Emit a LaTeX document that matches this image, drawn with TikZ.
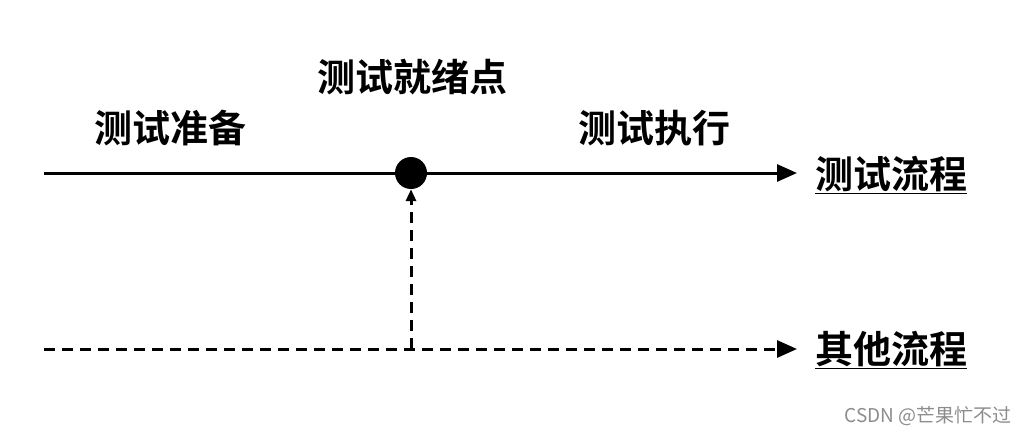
\documentclass[tikz,border=0pt]{standalone}
\usepackage{fontspec}
\newfontfamily\cjk{Noto Sans CJK SC}[BoldFont={Noto Sans CJK SC Bold}]
\usetikzlibrary{arrows.meta}
\begin{document}
\begin{tikzpicture}[x=1pt,y=-1pt,
  flow/.style={line width=3pt},
  dashflow/.style={line width=3pt,dash pattern=on 11pt off 7pt},
  bigtip/.style={-{Triangle[length=20pt,width=17pt]}},
  smalltip/.style={-{Triangle[length=12pt,width=10pt]}},
  lbl/.style={font=\cjk\bfseries\fontsize{38}{42}\selectfont,inner sep=0pt},
  wmark/.style={font=\cjk\fontsize{19}{22}\selectfont,text=black!45,inner sep=0pt}]
\useasboundingbox (0,0) rectangle (1027,436);
\coordinate (s1) at (44,173);
\coordinate (e1) at (797,173);
\coordinate (s2) at (44,349);
\coordinate (e2) at (797,349);
\coordinate (c2) at (411,349);
\node[circle,fill=black,minimum size=32pt,inner sep=0pt] (dot) at (411,173) {};
\draw[flow] (s1) -- (dot);
\draw[flow,bigtip] (dot) -- (e1);
\draw[dashflow,bigtip] (s2) -- (e2);
\draw[dashflow,smalltip] (c2) -- (dot.south);
\node[lbl] (prep) at (170,128) {测试准备};
\node[lbl] (ready) at (412,77) {测试就绪点};
\node[lbl] (exec) at (654,128) {测试执行};
\node[lbl,anchor=west] (tf) at (815,175) {\underline{测试流程}};
\node[lbl,anchor=west] (of) at (815,350) {\underline{其他流程}};
\node[wmark,anchor=east] (wm) at (1012,416) {CSDN @芒果忙不过};
\end{tikzpicture}
\end{document}
